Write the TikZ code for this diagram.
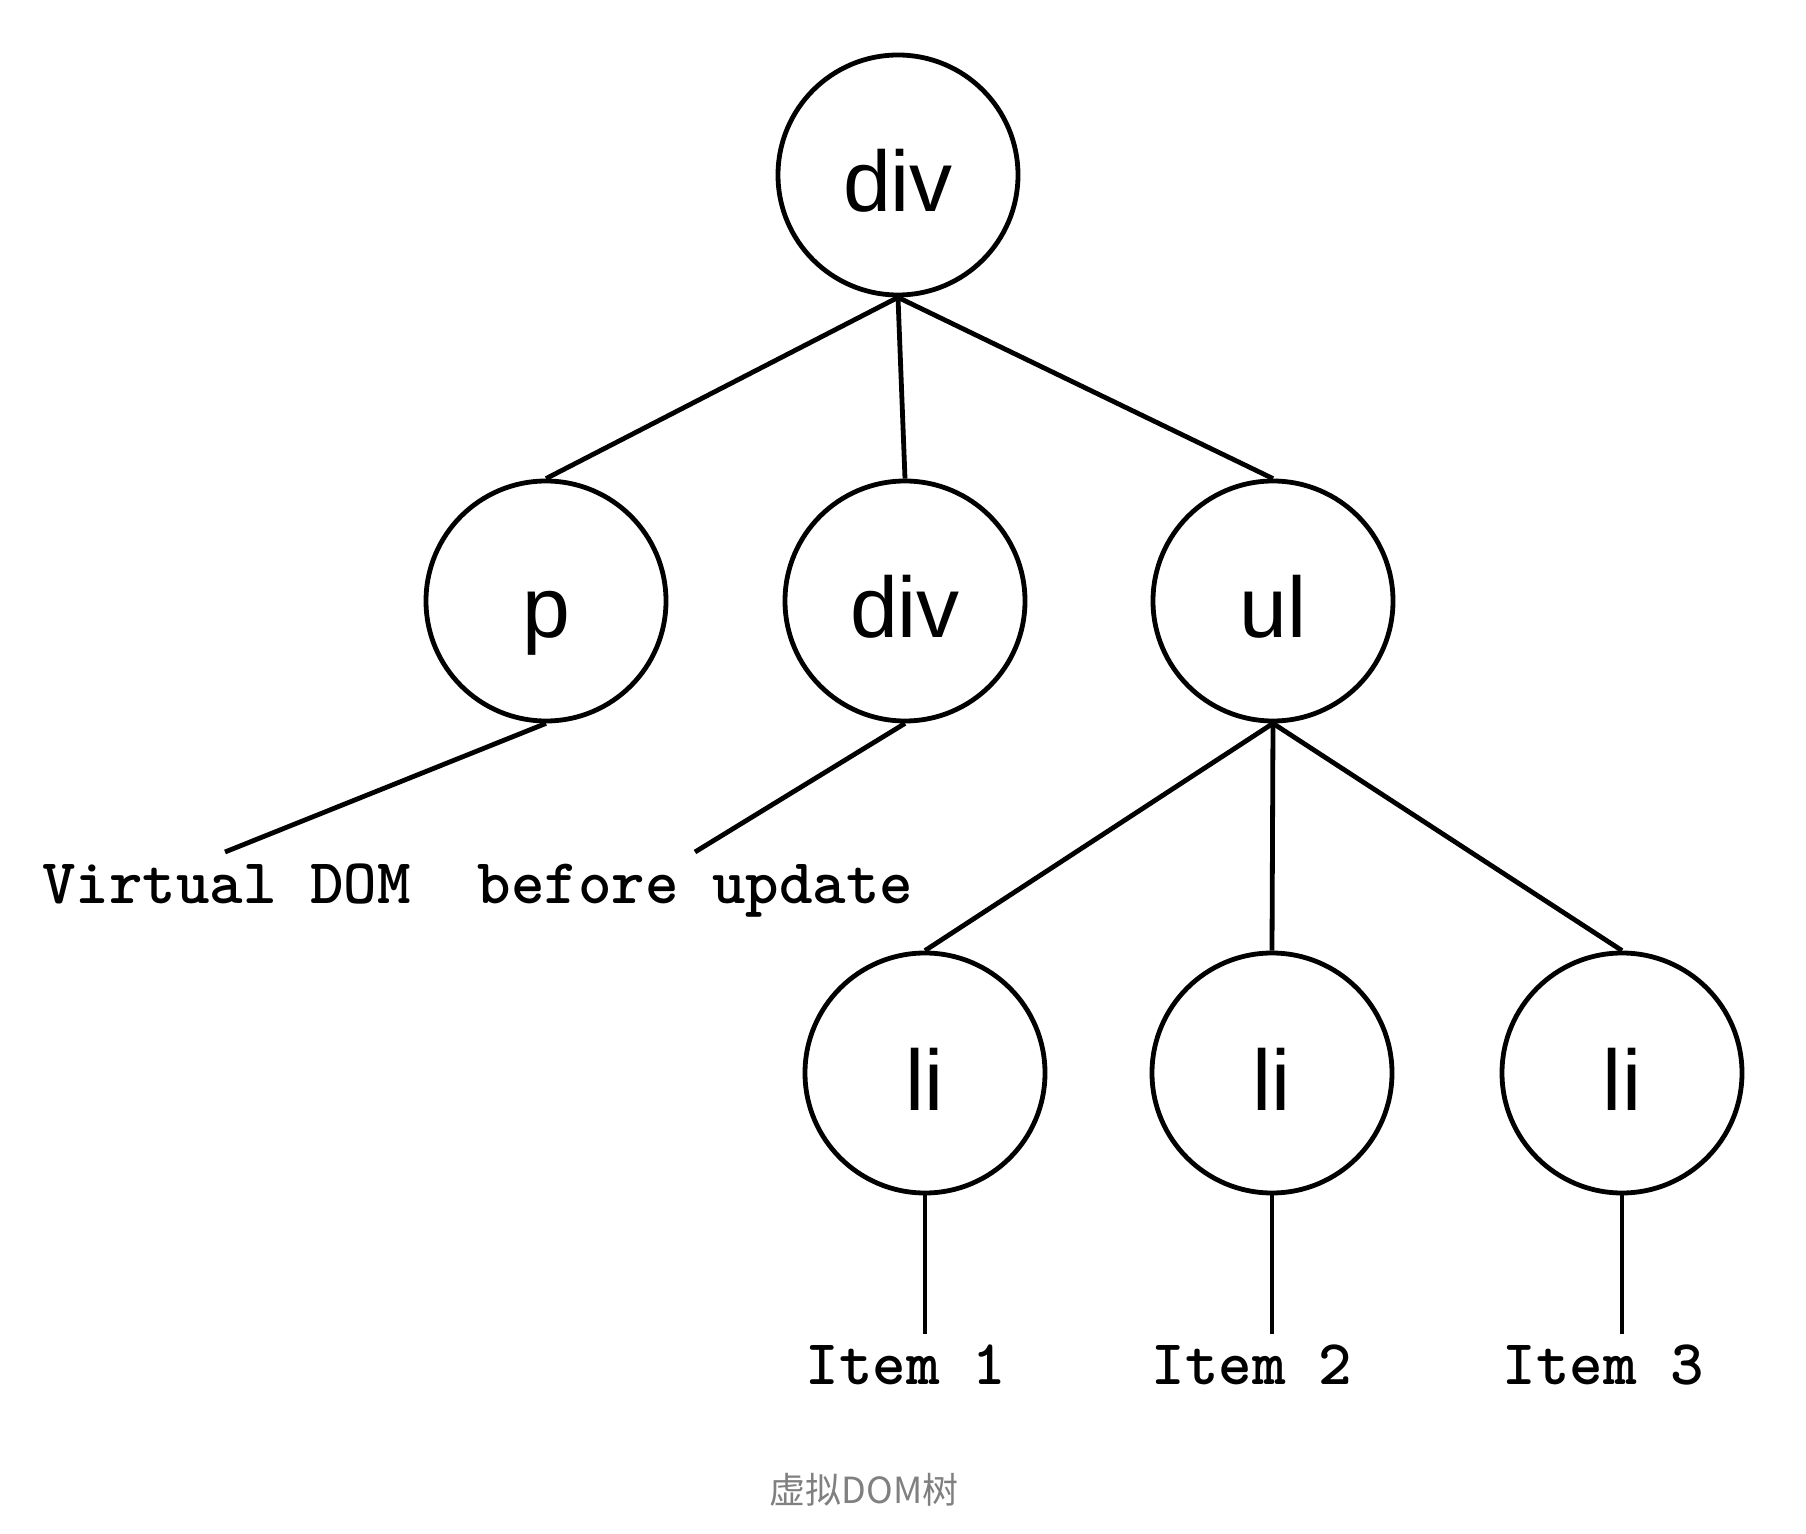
\documentclass[tikz,border=0pt]{standalone}
\usepackage{fontspec}
\setmainfont{Liberation Sans}
\newfontfamily\cjkfont{Noto Sans CJK SC}
\definecolor{captiongray}{RGB}{128,128,128}
\begin{document}
\begin{tikzpicture}[x=0.5pt,y=-0.5pt,
  treenode/.style={circle,draw,line width=2.4pt,minimum size=120pt,inner sep=0pt,
    font=\fontsize{43}{43}\selectfont,text height=37pt,text depth=0pt},
  edge/.style={line width=2.4pt},
  codetext/.style={font=\ttfamily\bfseries\fontsize{31.9}{32}\selectfont,inner sep=0pt}]
\useasboundingbox (0,0) rectangle (1806,1534);
\fill[white] (0,0) rectangle (1806,1534);
\node[treenode] (root) at (898,175) {div};
\node[treenode] (p) at (546,601) {p};
\node[treenode] (div2) at (905,601) {div};
\node[treenode] (ul) at (1273,601) {ul};
\node[treenode] (li1) at (925,1073) {li};
\node[treenode] (li2) at (1272,1073) {li};
\node[treenode] (li3) at (1622,1073) {li};
\coordinate (pend) at (225,852);
\coordinate (dend) at (695,852);
\coordinate (i1) at (925,1334);
\coordinate (i2) at (1272,1334);
\coordinate (i3) at (1622,1334);
\draw[edge] (root.south) -- (p.north);
\draw[edge] (root.south) -- (div2.north);
\draw[edge] (root.south) -- (ul.north);
\draw[edge] (ul.south) -- (li1.north);
\draw[edge] (ul.south) -- (li2.north);
\draw[edge] (ul.south) -- (li3.north);
\draw[edge] (p.south) -- (pend);
\draw[edge] (div2.south) -- (dend);
\draw[edge] (li1.south) -- (i1);
\draw[edge] (li2.south) -- (i2);
\draw[edge] (li3.south) -- (i3);
\node[codetext,anchor=base west] (vdom) at (42,904) {Virtual DOM~~before update};
\node[codetext,anchor=base] (item1) at (906,1384) {Item 1};
\node[codetext,anchor=base] (item2) at (1252,1384) {Item 2};
\node[codetext,anchor=base] (item3) at (1603,1384) {Item 3};
\node[anchor=base,inner sep=0pt,text=captiongray,font=\cjkfont\fontsize{18}{18}\selectfont] (caption) at (864,1503) {虚拟DOM树};
\end{tikzpicture}
\end{document}
